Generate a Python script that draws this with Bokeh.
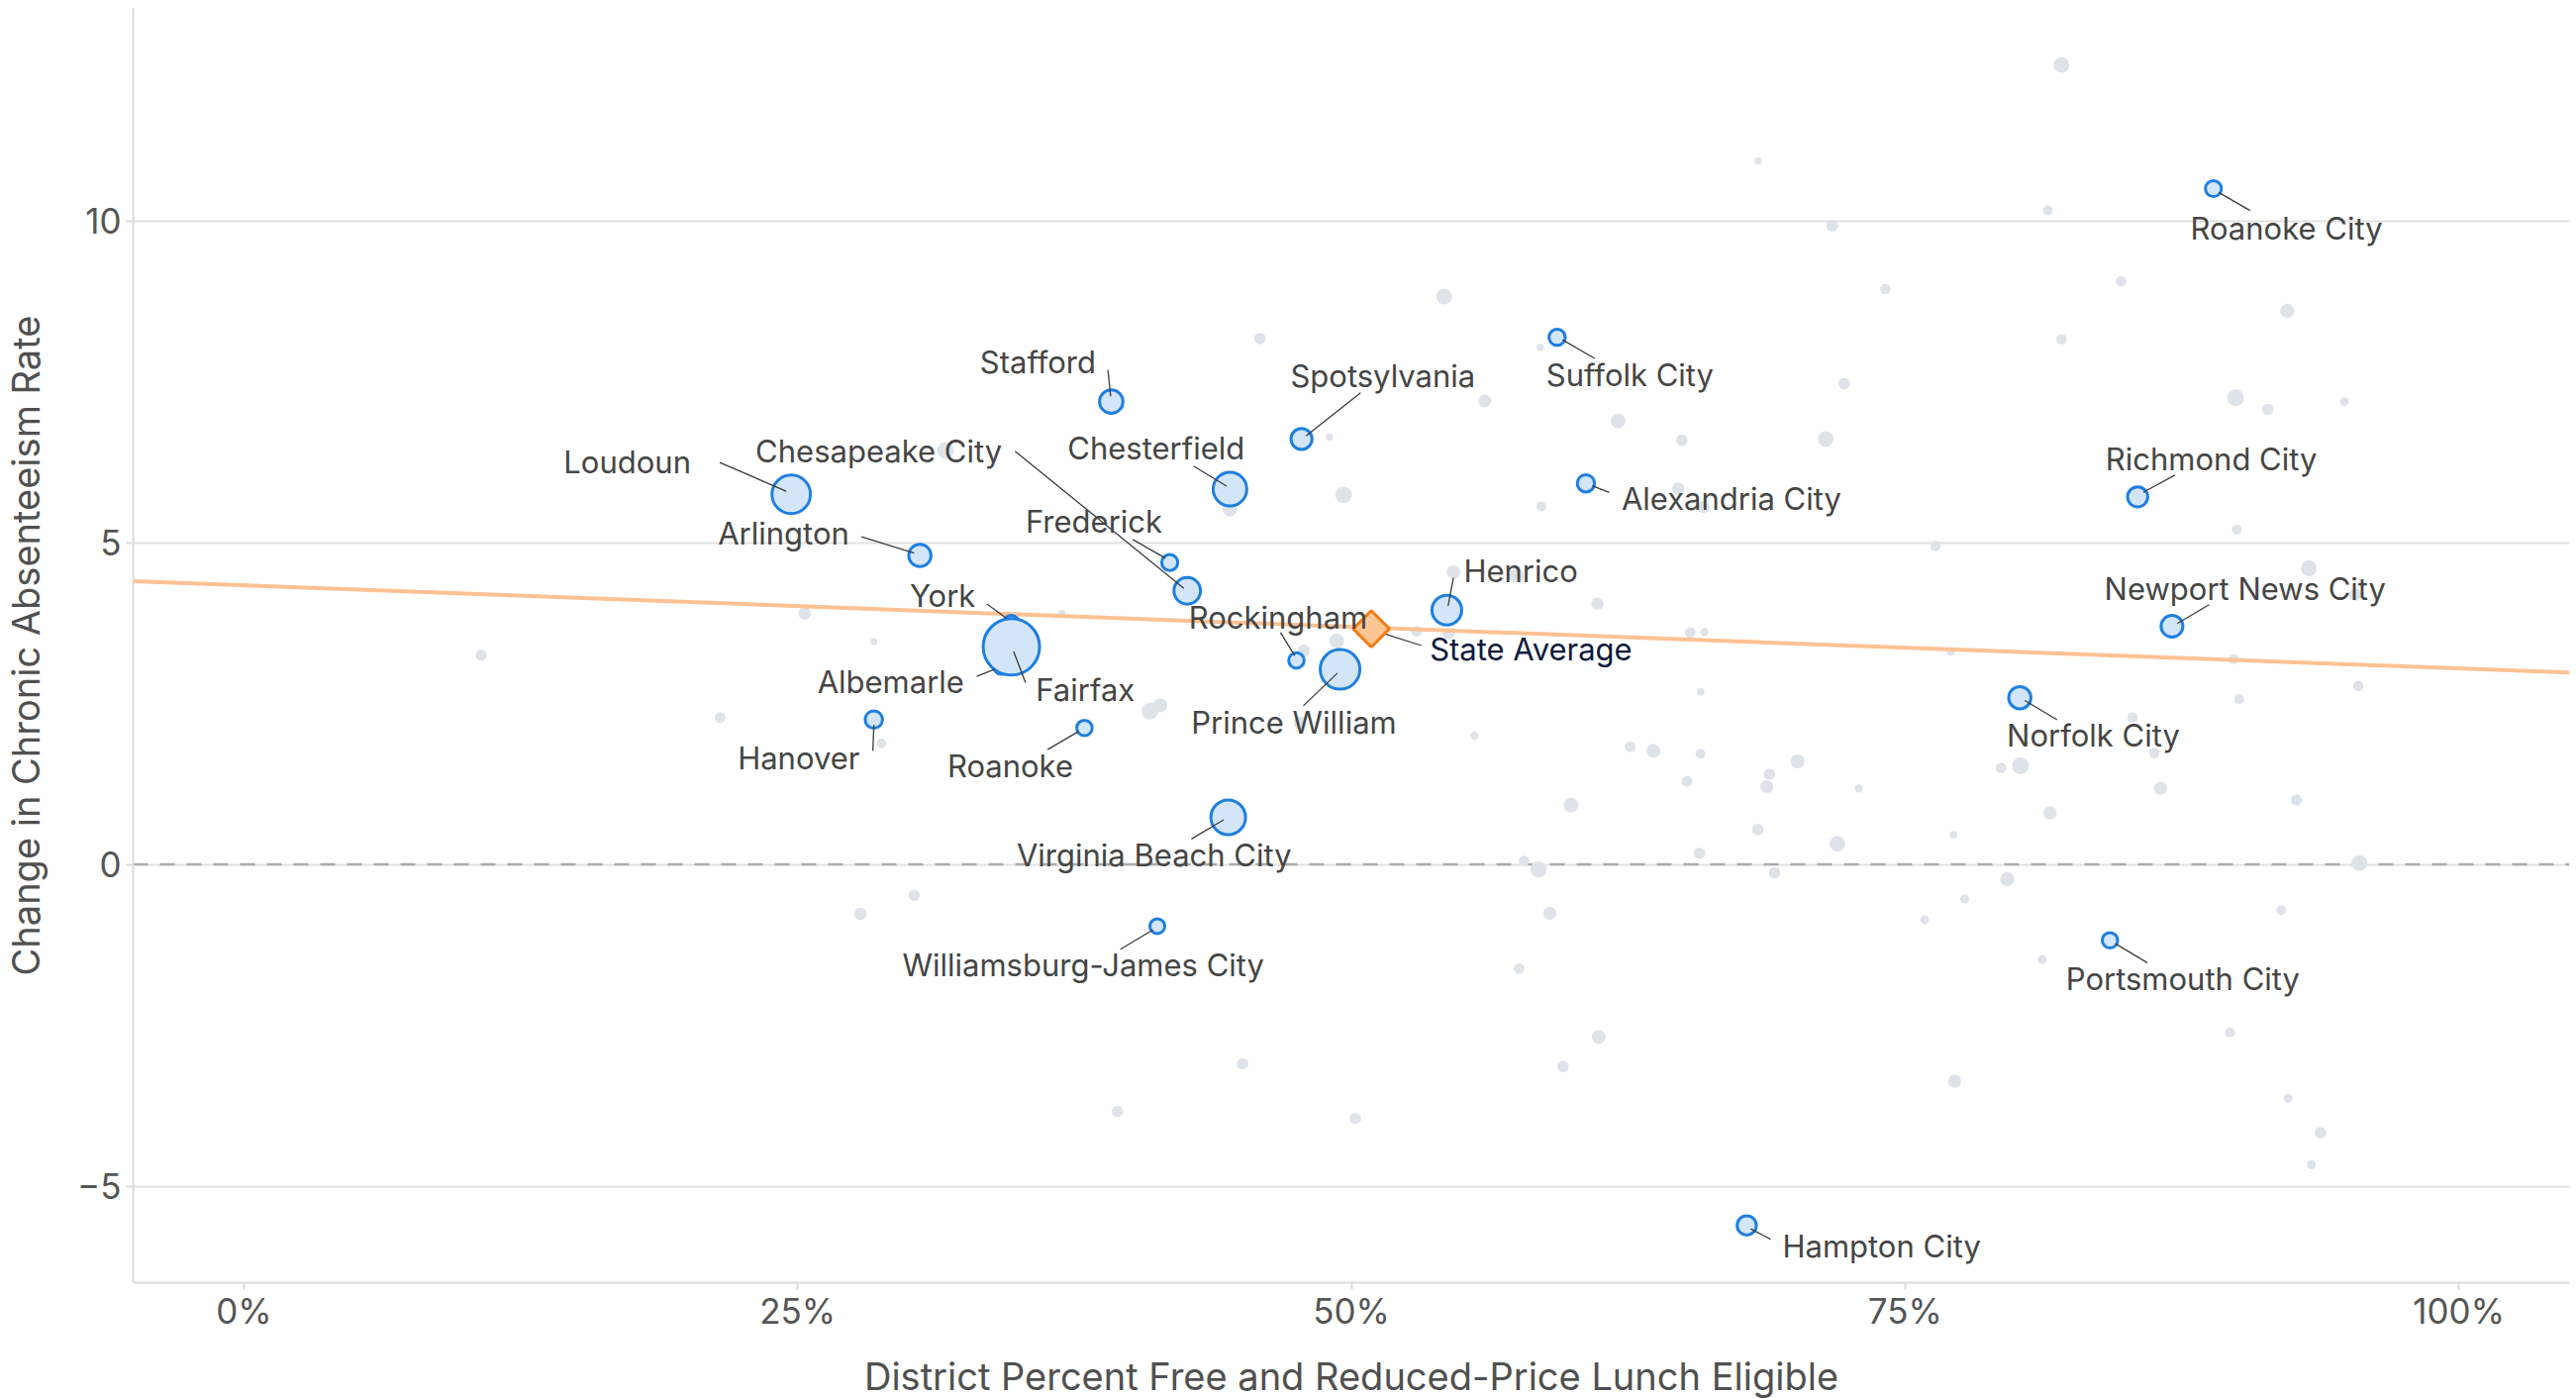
import numpy as np
from bokeh.plotting import figure
from bokeh.models import Range1d, FixedTicker, NumeralTickFormatter, Span, ColumnDataSource
from bokeh.embed import file_html
from bokeh.resources import INLINE
from bokeh.core.properties import value

# ---------------- data ----------------
# highlighted districts: x = % free/reduced lunch eligible, y = change in chronic absenteeism, enrollment
names = ["Loudoun", "Arlington", "Chesapeake City", "Stafford", "Spotsylvania", "Suffolk City",
         "Chesterfield", "Frederick", "Alexandria City", "York", "Rockingham", "Henrico",
         "Prince William", "Albemarle", "Fairfax", "Hanover", "Roanoke", "Virginia Beach City",
         "Williamsburg-James City", "Roanoke City", "Richmond City", "Newport News City",
         "Norfolk City", "Portsmouth City", "Hampton City"]
frl_pct = [24.71, 30.52, 42.59, 39.16, 47.75, 59.29, 44.52, 41.80, 60.59, 34.65, 47.52, 54.31,
           49.49, 34.19, 34.65, 28.44, 37.95, 44.44, 41.24, 88.92, 85.50, 87.05, 80.18, 84.25, 67.85]
chg = [5.75, 4.80, 4.25, 7.19, 6.61, 8.19, 5.83, 4.69, 5.92, 3.75, 3.17, 3.95,
       3.03, 3.08, 3.38, 2.25, 2.12, 0.73, -0.96, 10.50, 5.71, 3.70, 2.59, -1.18, -5.61]
enroll = [84000, 28000, 40000, 31000, 25000, 15000, 64000, 14500, 17000, 13500, 13500, 50000,
          89000, 14500, 180000, 17000, 13500, 68000, 12500, 14500, 23000, 27000, 28000, 13500, 21000]

# other districts (background)
bg_pct = [68.36, 71.71, 54.19, 45.87, 58.53, 72.25, 56.02, 62.04, 49.01, 64.92, 71.42, 82.06,
          81.44, 74.11, 84.75, 92.25, 82.06, 89.92, 91.37, 94.84, 49.65, 58.57, 64.76, 65.90,
          44.52, 54.61, 57.45, 61.11, 65.30, 65.94, 49.34, 47.85, 52.96, 54.40, 47.67, 65.77,
          55.56, 62.59, 63.64, 65.76, 70.15, 68.87, 68.76, 65.16, 72.91, 59.92, 68.35, 71.94,
          65.72, 57.80, 58.45, 69.11, 89.98, 76.38, 93.23, 95.32, 77.06, 89.84, 95.46, 90.08,
          85.27, 86.25, 79.33, 80.21, 86.53, 92.67, 81.55, 77.18, 95.52, 79.61, 75.89, 77.69,
          81.19, 77.23, 89.67, 91.98, 92.29, 93.75, 93.34, 58.96, 57.57, 61.17, 45.09, 59.55,
          50.18, 31.67, 36.93, 28.44, 40.91, 41.37, 39.44, 30.26, 27.83, 28.78, 10.71, 21.50, 25.32]
bg_chg = [10.93, 9.92, 8.82, 8.17, 8.03, 7.47, 7.20, 6.89, 6.64, 6.59, 6.61, 12.42,
          10.16, 8.94, 9.06, 8.60, 8.16, 7.25, 7.07, 7.19, 5.74, 5.56, 5.84, 5.55,
          5.52, 4.54, 4.49, 4.05, 3.60, 3.61, 3.47, 3.32, 3.62, 3.59, 2.20, 2.68,
          2.00, 1.83, 1.76, 1.72, 1.60, 1.40, 1.21, 1.29, 1.18, 0.92, 0.54, 0.32,
          0.17, 0.05, -0.08, -0.13, 5.20, 4.95, 4.60, 4.19, 3.31, 3.19, 2.77, 2.57,
          2.28, 1.73, 1.50, 1.53, 1.18, 1.00, 0.80, 0.46, 0.02, -0.23, -0.86, -0.54,
          -1.48, -3.37, -2.61, -0.71, -3.64, -4.17, -4.67, -0.76, -1.62, -2.68, -3.10, -3.14,
          -3.95, 6.43, 3.90, 3.46, 2.38, 2.47, -3.84, -0.48, -0.77, 1.88, 3.25, 2.28, 3.90]
bg_enroll = [3000, 7500, 13700, 7500, 3000, 7500, 9400, 12500, 3000, 7500, 13700, 14200,
             5500, 6300, 6300, 11300, 6300, 16000, 7500, 4500, 15300, 5500, 8500, 8500,
             12500, 10900, 12500, 8500, 6500, 3800, 12500, 8500, 6500, 8000, 8500, 3100,
             3800, 6500, 10900, 5500, 10900, 7500, 9800, 6500, 3800, 12500, 7500, 13700,
             7500, 6500, 15300, 7500, 5500, 6300, 14200, 8700, 4500, 5500, 6300, 5500,
             6300, 6300, 6300, 16000, 10000, 7500, 10000, 3500, 14200, 11300, 4500, 4500,
             4500, 10000, 5500, 5500, 4500, 7500, 4500, 9800, 6500, 10900, 7500, 7500,
             7500, 16000, 2700, 2700, 16000, 10900, 7300, 7300, 8800, 5500, 7300, 6700, 8800]

state_avg_pct = [50.90]
state_avg_chg = [3.66]

trend_pct = [-5.0, 105.0]
trend_chg = [4.40, 2.98]

x_ticks = [0, 0.25, 0.5, 0.75, 1.0]
y_ticks = [-5, 0, 5, 10]

# ---------------- layout (pixel offsets of labels / leaders) ----------------
# name: (align, dx, dy) label anchor relative to point, px (dy down), baseline = alphabetic
label_layout = {
    "Loudoun": ("right", -101.2, -21.7),
    "Arlington": ("right", -71.4, -11.3),
    "Chesapeake City": ("right", -187.1, -130.4),
    "Stafford": ("right", -15.5, -28.9),
    "Spotsylvania": ("center", 82.2, -52.9),
    "Suffolk City": ("left", -11.0, 48.8),
    "Chesterfield": ("right", 14.9, -30.3),
    "Frederick": ("right", -7.5, -30.3),
    "Alexandria City": ("left", 36.0, 26.2),
    "York": ("right", -36.2, -16.6),
    "Rockingham": ("right", 71.7, -32.9),
    "Henrico": ("left", 17.0, -29.0),
    "Prince William": ("center", -46.6, 64.6),
    "Albemarle": ("right", -37.4, 26.4),
    "Fairfax": ("left", 24.7, 54.3),
    "Hanover": ("right", -14.2, 50.2),
    "Roanoke": ("right", -11.4, 49.7),
    "Virginia Beach City": ("center", -74.8, 48.6),
    "Williamsburg-James City": ("center", -74.8, 50.2),
    "Roanoke City": ("center", 73.8, 50.8),
    "Richmond City": ("center", 74.4, -27.6),
    "Newport News City": ("center", 73.9, -27.4),
    "Norfolk City": ("center", 74.3, 49.3),
    "Portsmouth City": ("center", 73.6, 49.4),
    "Hampton City": ("left", 36.1, 31.7),
}
LABEL_DY = -11.0  # baseline correction for the svg text renderer
# name: (ax, ay, bx, by) leader line endpoints relative to point, px
leader_layout = {
    "Loudoun": (-72.2, -32.2, -5.2, -3.2),
    "Arlington": (-59.0, -18.8, -5.8, -2.3),
    "Chesapeake City": (-173.9, -141.0, -3.4, -2.6),
    "Stafford": (-3.4, -32.1, -0.6, -5.3),
    "Spotsylvania": (59.7, -46.5, 4.6, -3.2),
    "Suffolk City": (37.9, 21.4, 5.7, 2.7),
    "Chesterfield": (-36.8, -23.3, -3.4, -3.1),
    "Frederick": (-37.4, -23.3, -4.6, -4.5),
    "Alexandria City": (23.6, 9.2, 6.2, 2.5),
    "York": (-24.7, -19.2, -4.6, -4.5),
    "Rockingham": (-16.1, -28.1, -1.8, -4.9),
    "Henrico": (6.7, -32.7, 1.3, -4.3),
    "Prince William": (-37.1, 36.8, -2.7, 3.8),
    "Albemarle": (-24.7, 10.3, -6.4, 3.0),
    "Fairfax": (14.3, 36.2, 2.3, 4.6),
    "Hanover": (-1.0, 31.6, 0.1, 5.3),
    "Roanoke": (-37.3, 21.9, -5.7, 3.4),
    "Virginia Beach City": (-37.2, 21.8, -4.5, 2.4),
    "Williamsburg-James City": (-37.3, 23.4, -4.6, 3.9),
    "Roanoke City": (37.0, 22.1, 5.8, 4.1),
    "Richmond City": (37.7, -22.0, 5.6, -4.6),
    "Newport News City": (37.5, -21.7, 5.3, -2.7),
    "Norfolk City": (37.6, 22.3, 5.0, 2.9),
    "Portsmouth City": (37.7, 22.7, 5.5, 3.4),
    "Hampton City": (24.1, 14.0, 4.0, 3.4),
}
state_label = ("State Average", "left", 59.0, 31.5)
state_leader = (50.7, 16.9, 8.4, 3.5)

# ---------------- figure ----------------
X0, X1 = -0.05, 1.05
Y0, Y1 = -6.5, 13.3
FW, FH = 2461, 1287
PXX = FW / (X1 - X0)
PXY = FH / (Y1 - Y0)
SIZE_K = 0.1343

FONT = "Inter"
GRID = "#e2e2e2"
AXIS = "#dcdcdc"

p = figure(frame_width=FW, frame_height=FH, x_range=Range1d(X0, X1), y_range=Range1d(Y0, Y1),
           output_backend="svg", toolbar_location=None,
           min_border_left=131, min_border_right=2, min_border_top=8, min_border_bottom=112)
p.outline_line_color = None
p.background_fill_color = "white"
p.border_fill_color = "white"

p.xgrid.grid_line_color = None
p.ygrid.grid_line_color = GRID
p.ygrid.grid_line_width = 2
p.ygrid.ticker = FixedTicker(ticks=y_ticks)

for ax in (p.xaxis[0], p.yaxis[0]):
    ax.axis_line_color = AXIS
    ax.axis_line_width = 2
    ax.major_tick_line_color = AXIS
    ax.major_tick_line_width = 2
    ax.major_tick_in = 0
    ax.major_tick_out = 7
    ax.minor_tick_line_color = None
    ax.major_label_text_font = FONT
    ax.major_label_text_font_size = "35px"
    ax.major_label_text_color = "#555555"
    ax.axis_label_text_font = FONT
    ax.axis_label_text_font_size = "38px"
    ax.axis_label_text_font_style = "normal"
    ax.axis_label_text_color = "#505050"

p.xaxis.ticker = FixedTicker(ticks=x_ticks)
p.xaxis.formatter = NumeralTickFormatter(format="0%")
p.xaxis.major_label_standoff = 0
p.xaxis.axis_label = "District Percent Free and Reduced-Price Lunch Eligible"
p.xaxis.axis_label_standoff = 19

p.yaxis.ticker = FixedTicker(ticks=y_ticks)
p.yaxis.major_label_standoff = 5
p.yaxis.axis_label = "Change in Chronic Absenteeism Rate"
p.yaxis.axis_label_standoff = 26

zero = Span(location=0, dimension="width", line_color="#ababab", line_width=2.5,
            line_dash="15 12", level="underlay")
p.add_layout(zero)

# background districts
bg_src = ColumnDataSource(dict(x=np.array(bg_pct) / 100, y=bg_chg,
                               s=SIZE_K * np.sqrt(np.array(bg_enroll, dtype=float))))
p.scatter("x", "y", size="s", source=bg_src, fill_color="#dee3ea", line_color=None)

# trend line
p.line(np.array(trend_pct) / 100, trend_chg, line_color="#fdc193", line_width=4)

# highlighted districts
hx = np.array(frl_pct) / 100
hy = np.array(chg)
hl_src = ColumnDataSource(dict(x=hx, y=hy, s=SIZE_K * np.sqrt(np.array(enroll, dtype=float))))
p.scatter("x", "y", size="s", source=hl_src, fill_color="#d3e5f8", line_color="#1e7fe0",
          line_width=3)

# leader lines
lx0, ly0, lx1, ly1 = [], [], [], []
for n, xv, yv in zip(names, hx, hy):
    ax_, ay_, bx_, by_ = leader_layout[n]
    lx0.append(xv + ax_ / PXX); ly0.append(yv - ay_ / PXY)
    lx1.append(xv + bx_ / PXX); ly1.append(yv - by_ / PXY)
sx, sy = state_avg_pct[0] / 100, state_avg_chg[0]
ax_, ay_, bx_, by_ = state_leader
lx0.append(sx + ax_ / PXX); ly0.append(sy - ay_ / PXY)
lx1.append(sx + bx_ / PXX); ly1.append(sy - by_ / PXY)
p.segment(lx0, ly0, lx1, ly1, line_color="#3c3c3c", line_width=1.3)

# state average marker
p.scatter(np.array(state_avg_pct) / 100, state_avg_chg, marker="square", angle=np.pi / 4,
          size=26, fill_color="#fdc592", line_color="#f47c14", line_width=3)

# labels
for align in ("left", "center", "right"):
    tx, ty, tt = [], [], []
    for n, xv, yv in zip(names, hx, hy):
        a, dx, dy = label_layout[n]
        if a != align:
            continue
        tx.append(xv + dx / PXX); ty.append(yv - (dy + LABEL_DY) / PXY); tt.append(n)
    p.text(tx, ty, text=tt, text_font=value(FONT), text_font_size="31px",
           text_color="#454545", text_align=align, text_baseline="alphabetic")

n, a, dx, dy = state_label
p.text([sx + dx / PXX], [sy - (dy + LABEL_DY) / PXY], text=[n], text_font=value(FONT),
       text_font_size="31px", text_color="#0d1a3d", text_align=a, text_baseline="alphabetic")

open("out.html", "w").write(file_html(p, INLINE))
